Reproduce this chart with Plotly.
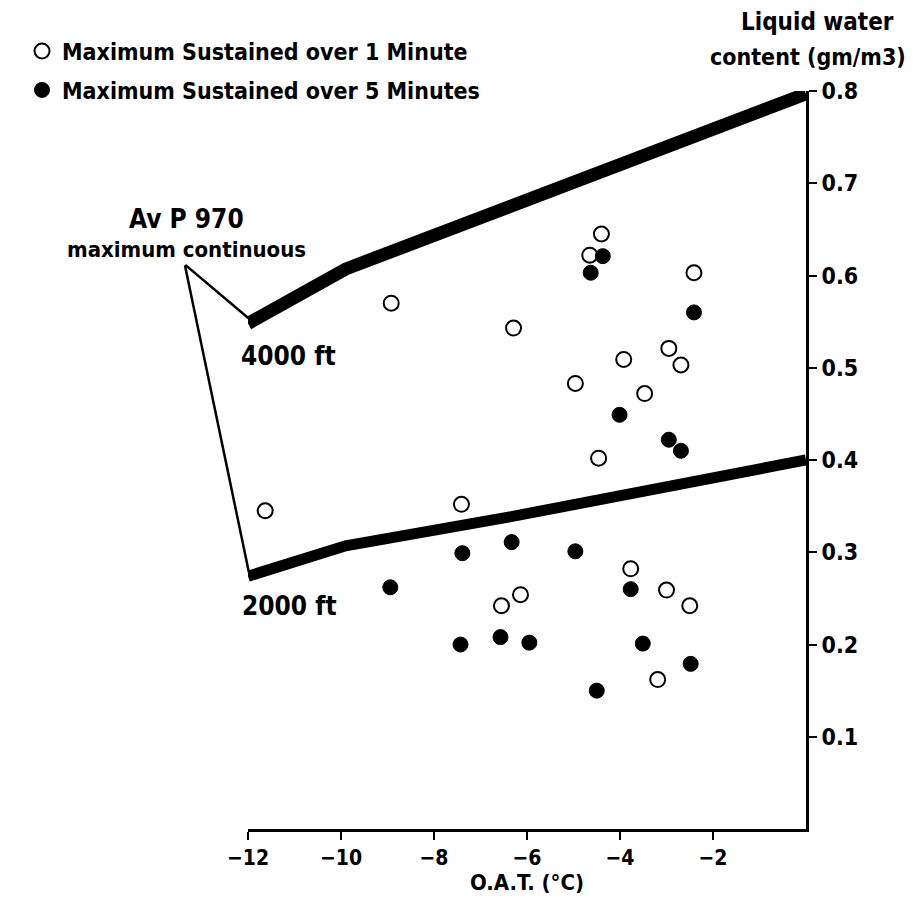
import plotly.graph_objects as go

# ---- data ----
oat_1min = [-8.92, -11.63, -6.29, -4.40, -4.65, -2.41, -2.95, -3.92, -2.69, -4.96,
            -3.47, -4.46, -7.41, -6.14, -6.55, -3.77, -3.00, -2.50, -3.19]
lwc_1min = [0.570, 0.345, 0.543, 0.645, 0.622, 0.603, 0.521, 0.509, 0.503, 0.483,
            0.472, 0.402, 0.352, 0.254, 0.242, 0.282, 0.259, 0.242, 0.162]

oat_5min = [-4.37, -4.63, -2.41, -4.01, -2.95, -2.69, -6.33, -4.96, -7.39, -8.94,
            -3.77, -6.57, -5.95, -3.51, -7.43, -2.48, -4.50]
lwc_5min = [0.621, 0.603, 0.560, 0.449, 0.422, 0.410, 0.311, 0.301, 0.299, 0.262,
            0.260, 0.208, 0.202, 0.201, 0.200, 0.179, 0.150]

line4000_oat = [-12, -9.9, 0]
line4000_lwc = [0.548, 0.607, 0.797]
line2000_oat = [-12, -9.9, -6.4, 0]
line2000_lwc = [0.274, 0.307, 0.338, 0.400]

leader_tip = (-13.36, 0.612)

x_ticks = [-12, -10, -8, -6, -4, -2]
y_ticks = [0.1, 0.2, 0.3, 0.4, 0.5, 0.6, 0.7, 0.8]

FONT = "DejaVu Sans Condensed, Liberation Sans Narrow, Arial Narrow, sans-serif"

fig = go.Figure()

fig.add_trace(go.Scatter(x=line4000_oat, y=line4000_lwc, mode="lines",
                         line=dict(color="black", width=13), showlegend=False,
                         hoverinfo="skip"))
fig.add_trace(go.Scatter(x=line2000_oat, y=line2000_lwc, mode="lines",
                         line=dict(color="black", width=11), showlegend=False,
                         hoverinfo="skip"))

fig.add_trace(go.Scatter(x=oat_1min, y=lwc_1min, mode="markers",
                         name="<b>Maximum Sustained over 1 Minute</b>", legendgroup="a",
                         marker=dict(symbol="circle", size=15, color="white",
                                     line=dict(color="black", width=2)),
                         cliponaxis=False))
fig.add_trace(go.Scatter(x=oat_5min, y=lwc_5min, mode="markers",
                         name="<b>Maximum Sustained over 5 Minutes</b>", legendgroup="b",
                         marker=dict(symbol="circle", size=15, color="black",
                                     line=dict(color="black", width=1)),
                         cliponaxis=False))

annotations = []
# leader lines
for hx, hy in [(line4000_oat[0] + 0.05, line4000_lwc[0] + 0.004),
               (line2000_oat[0] + 0.02, line2000_lwc[0] + 0.004)]:
    annotations.append(dict(x=hx, y=hy, xref="x", yref="y",
                            ax=leader_tip[0], ay=leader_tip[1], axref="x", ayref="y",
                            text=" ", font=dict(size=1), borderpad=0,
                            showarrow=True, arrowhead=0, arrowwidth=2.5,
                            arrowcolor="black", standoff=0, startstandoff=0))

annotations += [
    dict(x=-0.111, y=0.827, xref="paper", yref="paper", xanchor="center", yanchor="middle",
         text="<b>Av P 970</b>", showarrow=False, font=dict(size=26)),
    dict(x=-0.111, y=0.785, xref="paper", yref="paper", xanchor="center", yanchor="middle",
         text="<b>maximum continuous</b>", showarrow=False, font=dict(size=22)),
    dict(x=-11.12, y=0.513, xref="x", yref="y", xanchor="center", yanchor="middle",
         text="<b>4000 ft</b>", showarrow=False, font=dict(size=26)),
    dict(x=-11.1, y=0.242, xref="x", yref="y", xanchor="center", yanchor="middle",
         text="<b>2000 ft</b>", showarrow=False, font=dict(size=26)),
    dict(x=1.162, y=1.0935, xref="paper", yref="paper", xanchor="right", yanchor="middle",
         text="<b>Liquid water</b>", showarrow=False, font=dict(size=24)),
    dict(x=1.183, y=1.046, xref="paper", yref="paper", xanchor="right", yanchor="middle",
         text="<b>content (gm/m3)</b>", showarrow=False, font=dict(size=23)),
]

fig.update_layout(
    width=905, height=899,
    margin=dict(l=240, r=107, t=83, b=78, autoexpand=False),
    paper_bgcolor="white", plot_bgcolor="white",
    font=dict(family=FONT, color="black", size=21),
    showlegend=True,
    legend=dict(xref="container", yref="container", x=0.0155, y=0.976,
                xanchor="left", yanchor="top",
                bgcolor="rgba(0,0,0,0)", font=dict(size=23),
                itemsizing="trace", tracegroupgap=6),
    annotations=annotations,
    xaxis=dict(range=[-12, 0], tickvals=x_ticks, ticktext=["<b>−%d</b>" % abs(v) for v in x_ticks],
               showgrid=False, zeroline=False, showline=True, linecolor="black",
               linewidth=3, ticks="outside", ticklen=8, tickwidth=2, tickcolor="black",
               tickfont=dict(size=21), automargin=False,
               title=dict(text="<b>O.A.T. (°C)</b>", font=dict(size=22), standoff=6)),
    yaxis=dict(range=[0, 0.8], side="right", tickvals=y_ticks,
               ticktext=["<b>%.1f</b>" % v for v in y_ticks],
               showgrid=False, zeroline=False, showline=True, linecolor="black",
               linewidth=3, ticks="outside", ticklen=8, tickwidth=2, tickcolor="black",
               tickfont=dict(size=23), automargin=False),
)

fig.write_html("out.html")
